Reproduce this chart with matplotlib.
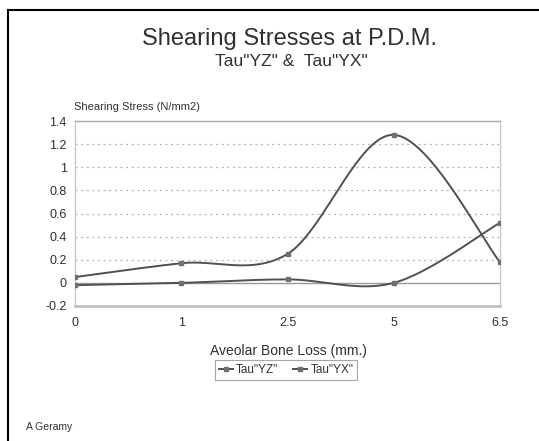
import numpy as np
import matplotlib
matplotlib.use("Agg")
import matplotlib.pyplot as plt
from matplotlib.lines import Line2D

categories = ["0", "1", "2.5", "5", "6.5"]
tau_yz = [0.05, 0.17, 0.25, 1.28, 0.18]
tau_yx = [-0.02, 0.00, 0.03, 0.00, 0.52]
yticks = [-0.2, 0, 0.2, 0.4, 0.6, 0.8, 1, 1.2, 1.4]
ytick_labels = ["-0.2", "0", "0.2", "0.4", "0.6", "0.8", "1", "1.2", "1.4"]

plt.rcParams['font.family'] = ['Liberation Sans', 'DejaVu Sans']

def smooth(y, n=40):
    x = np.arange(len(y), dtype=float)
    P = np.column_stack([x, np.asarray(y, float)])
    pts = []
    for i in range(len(P) - 1):
        p0 = P[max(i - 1, 0)]
        p1 = P[i]
        p2 = P[i + 1]
        p3 = P[min(i + 2, len(P) - 1)]
        c1 = p1 + (p2 - p0) / 6.0
        c2 = p2 - (p3 - p1) / 6.0
        t = np.linspace(0, 1, n)[:, None]
        seg = ((1 - t) ** 3) * p1 + 3 * ((1 - t) ** 2) * t * c1 + 3 * (1 - t) * t ** 2 * c2 + t ** 3 * p2
        pts.append(seg if i == 0 else seg[1:])
    pts = np.vstack(pts)
    return pts[:, 0], pts[:, 1]

fig = plt.figure(figsize=(5.39, 4.41), dpi=100)
W, H = 539, 441
ax = fig.add_axes([75 / W, 1 - 306 / H, (500 - 75) / W, (306 - 121) / H])

ax.set_xlim(0, len(categories) - 1)
ax.set_ylim(-0.2, 1.4)
for v in yticks:
    if v in (-0.2, 1.4):
        continue
    if v == 0:
        ax.axhline(v, color="#9a9a9a", lw=1.0, zorder=1)
    else:
        ax.axhline(v, color="#b0b0b0", lw=0.9, ls=(0, (1.5, 3)), zorder=1)

line_color = "#505050"
for ys in (tau_yz, tau_yx):
    sx, sy = smooth(ys)
    ax.plot(sx, sy, color=line_color, lw=1.4, zorder=3)
    ax.plot(np.arange(len(ys)), ys, ls="none", marker="s", ms=3.5,
            color="#707070", zorder=4)

for s in ("left", "right", "top"):
    ax.spines[s].set_color("#c8c8c8")
    ax.spines[s].set_linewidth(1.0)
ax.spines["top"].set_color("#a8a8a8")
ax.spines["bottom"].set_color("#c0c0c0")
ax.spines["bottom"].set_linewidth(2.0)

ax.set_xticks(np.arange(len(categories)))
ax.set_xticklabels(categories, fontsize=9, color="#303030")
ax.set_yticks(yticks)
ax.set_yticklabels(ytick_labels, fontsize=9, color="#303030")
ax.tick_params(axis="x", length=0, pad=8)
ax.tick_params(axis="y", length=0, pad=6)

fig.text(74 / W, 1 - 107 / H, "Shearing Stress (N/mm2)", fontsize=8,
         color="#303030", ha="left", va="center")
fig.text(290 / W, 1 - 39 / H, "Shearing Stresses at P.D.M.", fontsize=17,
         color="#303030", ha="center", va="center")
fig.text(291 / W, 1 - 62 / H, 'Tau"YZ" &  Tau"YX"', fontsize=12.5,
         color="#303030", ha="center", va="center")
fig.text(288 / W, 1 - 351 / H, "Aveolar Bone Loss (mm.)", fontsize=10,
         color="#303030", ha="center", va="center")
fig.text(26 / W, 1 - 427 / H, "A Geramy", fontsize=7.5,
         color="#303030", ha="left", va="center")

handles = [Line2D([], [], color=line_color, lw=1.4, marker="s", ms=3, mfc="#707070", mec="#707070"),
           Line2D([], [], color=line_color, lw=1.4, marker="s", ms=3, mfc="#707070", mec="#707070")]
leg = fig.legend(handles, ['Tau"YZ"', 'Tau"YX"'], loc="center",
                 bbox_to_anchor=(286 / W, 1 - 370 / H), ncol=2, fontsize=8.5,
                 frameon=True, fancybox=False, handlelength=1.2, handletextpad=0.3,
                 columnspacing=1.2, borderpad=0.3, labelcolor="#303030")
leg.get_frame().set_edgecolor("#909090")
leg.get_frame().set_linewidth(0.8)

# outer frame (left and top edges visible)
fig.add_artist(Line2D([8 / W, 8 / W], [0, 1 - 10 / H], transform=fig.transFigure, color="black", lw=1.5))
fig.add_artist(Line2D([8 / W, 1], [1 - 10 / H, 1 - 10 / H], transform=fig.transFigure, color="black", lw=1.5))

fig.savefig("out.png", dpi=100)
